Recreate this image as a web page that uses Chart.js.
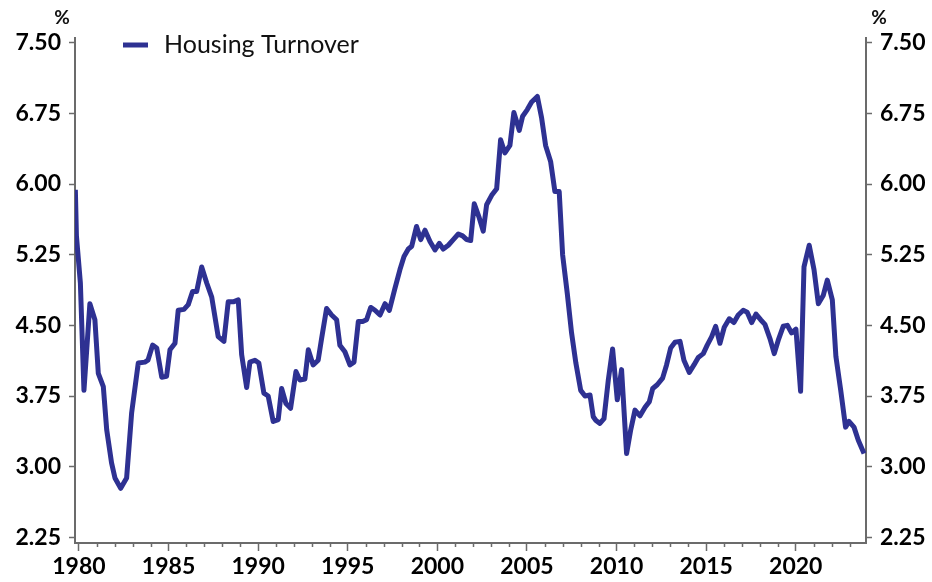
<!DOCTYPE html>
<html>
<head>
<meta charset="utf-8">
<title>Housing Turnover</title>
<script src="https://cdn.jsdelivr.net/npm/chart.js@4.4.1/dist/chart.umd.min.js"></script>
<style>
  html, body { margin: 0; padding: 0; background: #fff; }
  #wrap { position: relative; width: 932px; height: 582px; }
</style>
</head>
<body>
<div id="wrap"><canvas id="turnoverChart"></canvas></div>
<script>
// --- DATA ---
const seriesName = 'Housing Turnover';

// decimal years of each vertex of the line
const dates = [
  1979.80, 1979.86, 1980.08, 1980.28, 1980.61, 1980.89, 1981.08, 1981.36, 1981.55, 1981.82,
  1982.01, 1982.33, 1982.66, 1982.94, 1983.31, 1983.68, 1983.85, 1984.11, 1984.34, 1984.62,
  1984.89, 1985.08, 1985.36, 1985.54, 1985.86, 1986.10, 1986.34, 1986.57, 1986.85, 1987.13,
  1987.41, 1987.77, 1988.09, 1988.33, 1988.61, 1988.89, 1989.08, 1989.36, 1989.54, 1989.82,
  1990.04, 1990.32, 1990.56, 1990.84, 1991.12, 1991.31, 1991.55, 1991.81, 1992.11, 1992.33,
  1992.61, 1992.80, 1993.07, 1993.35, 1993.54, 1993.82, 1994.10, 1994.38, 1994.56, 1994.84,
  1995.12, 1995.35, 1995.59, 1995.83, 1996.05, 1996.28, 1996.52, 1996.80, 1997.08, 1997.32,
  1997.63, 1997.91, 1998.14, 1998.38, 1998.57, 1998.84, 1999.07, 1999.31, 1999.59, 1999.87,
  2000.11, 2000.33, 2000.61, 2000.89, 2001.17, 2001.41, 2001.64, 2001.86, 2002.06, 2002.34,
  2002.56, 2002.75, 2003.03, 2003.31, 2003.53, 2003.77, 2004.05, 2004.27, 2004.57, 2004.76,
  2005.02, 2005.26, 2005.58, 2005.82, 2006.04, 2006.32, 2006.56, 2006.80, 2006.99, 2007.25,
  2007.49, 2007.73, 2008.00, 2008.24, 2008.52, 2008.70, 2008.85, 2009.07, 2009.30, 2009.54,
  2009.78, 2010.04, 2010.28, 2010.56, 2010.79, 2011.03, 2011.31, 2011.59, 2011.83, 2012.02,
  2012.27, 2012.57, 2012.79, 2013.02, 2013.26, 2013.54, 2013.76, 2014.06, 2014.32, 2014.56,
  2014.84, 2015.06, 2015.31, 2015.53, 2015.77, 2016.01, 2016.29, 2016.55, 2016.79, 2017.07,
  2017.29, 2017.54, 2017.78, 2018.04, 2018.28, 2018.56, 2018.80, 2019.02, 2019.30, 2019.53,
  2019.77, 2020.01, 2020.27, 2020.46, 2020.75, 2021.02, 2021.26, 2021.54, 2021.76, 2022.04,
  2022.24, 2022.51, 2022.78, 2022.97, 2023.25, 2023.49, 2023.81
];

// housing turnover, %
const turnover = [
  5.94, 5.45, 4.95, 3.81, 4.73, 4.56, 3.99, 3.85, 3.39, 3.04,
  2.88, 2.77, 2.88, 3.57, 4.10, 4.11, 4.13, 4.29, 4.26, 3.95,
  3.96, 4.24, 4.31, 4.66, 4.67, 4.72, 4.86, 4.86, 5.12, 4.95,
  4.80, 4.38, 4.33, 4.75, 4.75, 4.77, 4.19, 3.84, 4.11, 4.13,
  4.10, 3.78, 3.75, 3.48, 3.50, 3.83, 3.67, 3.62, 4.01, 3.92,
  3.93, 4.24, 4.08, 4.13, 4.36, 4.68, 4.61, 4.56, 4.29, 4.22,
  4.08, 4.11, 4.54, 4.54, 4.56, 4.69, 4.66, 4.61, 4.73, 4.66,
  4.89, 5.09, 5.23, 5.31, 5.34, 5.55, 5.41, 5.51, 5.39, 5.30,
  5.37, 5.31, 5.35, 5.41, 5.47, 5.45, 5.41, 5.40, 5.79, 5.64,
  5.50, 5.78, 5.88, 5.95, 6.47, 6.33, 6.41, 6.76, 6.57, 6.72,
  6.79, 6.87, 6.93, 6.70, 6.41, 6.24, 5.92, 5.92, 5.25, 4.84,
  4.42, 4.10, 3.81, 3.75, 3.76, 3.53, 3.49, 3.46, 3.51, 3.92,
  4.25, 3.71, 4.03, 3.14, 3.39, 3.60, 3.54, 3.63, 3.69, 3.83,
  3.87, 3.94, 4.08, 4.26, 4.32, 4.33, 4.13, 4.00, 4.08, 4.16,
  4.20, 4.29, 4.38, 4.49, 4.31, 4.48, 4.57, 4.53, 4.61, 4.66,
  4.64, 4.53, 4.62, 4.56, 4.51, 4.36, 4.20, 4.34, 4.49, 4.50,
  4.42, 4.46, 3.80, 5.12, 5.35, 5.09, 4.73, 4.82, 4.98, 4.77,
  4.17, 3.81, 3.42, 3.48, 3.42, 3.28, 3.14
];

// tick labels
const yTicks = [2.25, 3.00, 3.75, 4.50, 5.25, 6.00, 6.75, 7.50];
const xMajorTicks = [1980, 1985, 1990, 1995, 2000, 2005, 2010, 2015, 2020];
const xMinorTicks = [];
for (let yr = 1980; yr <= 2023; yr++) {
  if (yr % 5 !== 0) xMinorTicks.push(yr);
}

// --- STYLE ---
const lineColor = '#2e3192';
const axisColor = '#6b6b6b';
const labelFont = { family: 'Lato, "DejaVu Sans", sans-serif', size: 23, weight: 'bold' };

// small minor ticks under the x axis + the "%" labels + the legend inside the plot
const extrasPlugin = {
  id: 'extras',
  afterDraw(chart) {
    const ctx = chart.ctx;
    const xs = chart.scales.x;
    const area = chart.chartArea;

    ctx.save();
    ctx.strokeStyle = axisColor;
    ctx.lineWidth = 1.5;
    xMinorTicks.forEach(yr => {
      const px = Math.round(xs.getPixelForValue(yr)) + 0.5;
      ctx.beginPath();
      ctx.moveTo(px, area.bottom);
      ctx.lineTo(px, area.bottom + 4);
      ctx.stroke();
    });

    // "%" over each value axis
    ctx.fillStyle = '#111';
    ctx.font = 'bold 19px Lato, "DejaVu Sans", sans-serif';
    ctx.textAlign = 'center';
    ctx.textBaseline = 'middle';
    ctx.fillText('%', 62, 18);
    ctx.fillText('%', 879, 18);

    // legend
    ctx.strokeStyle = lineColor;
    ctx.lineWidth = 5;
    ctx.beginPath();
    ctx.moveTo(123, 45);
    ctx.lineTo(148, 45);
    ctx.stroke();
    ctx.fillStyle = '#111';
    ctx.font = '25px Lato, "DejaVu Sans", sans-serif';
    ctx.textAlign = 'left';
    ctx.fillText(seriesName, 164, 45);
    ctx.restore();
  }
};

const points = dates.map((d, i) => ({ x: d, y: turnover[i] }));

const yAxisCommon = {
  type: 'linear',
  min: 2.19,
  max: 7.55,
  afterBuildTicks: scale => { scale.ticks = yTicks.map(v => ({ value: v })); },
  grid: { drawOnChartArea: false, tickLength: 6, tickColor: axisColor, tickWidth: 1.5 },
  border: { display: true, color: axisColor, width: 2 },
  ticks: {
    color: '#000',
    font: labelFont,
    padding: 8,
    callback: v => Number(v).toFixed(2)
  }
};

new Chart(document.getElementById('turnoverChart'), {
  type: 'line',
  data: {
    datasets: [{
      label: seriesName,
      data: points,
      borderColor: lineColor,
      borderWidth: 5,
      borderJoinStyle: 'round',
      pointRadius: 0,
      tension: 0,
      yAxisID: 'y'
    }]
  },
  options: {
    responsive: true,
    maintainAspectRatio: false,
    animation: false,
    layout: { padding: { top: 38, left: 0, right: 0, bottom: 0 } },
    plugins: {
      legend: { display: false },
      tooltip: { enabled: false }
    },
    scales: {
      x: {
        type: 'linear',
        min: 1979.78,
        max: 2023.92,
        afterBuildTicks: scale => { scale.ticks = xMajorTicks.map(v => ({ value: v })); },
        afterFit: scale => { scale.height = 39; },
        grid: { drawOnChartArea: false, tickLength: 8, tickColor: axisColor, tickWidth: 1.5 },
        border: { display: true, color: axisColor, width: 2 },
        ticks: {
          color: '#000',
          font: labelFont,
          padding: 2,
          maxRotation: 0,
          callback: v => String(v)
        }
      },
      y: Object.assign({}, yAxisCommon, {
        position: 'left',
        afterFit: scale => { scale.width = 75; }
      }),
      y2: Object.assign({}, yAxisCommon, {
        position: 'right',
        afterFit: scale => { scale.width = 66; }
      })
    }
  },
  plugins: [extrasPlugin]
});
</script>
</body>
</html>
